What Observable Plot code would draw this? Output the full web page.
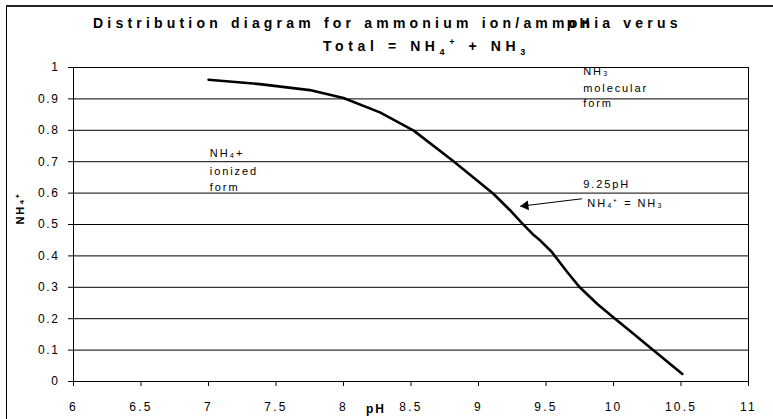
<!DOCTYPE html>
<html>
<head>
<meta charset="utf-8">
<script src="https://cdn.jsdelivr.net/npm/d3@7"></script>
<script src="https://cdn.jsdelivr.net/npm/@observablehq/plot@0.6"></script>
<style>
  body { margin: 0; background: #fff; }
  #wrap { position: relative; width: 773px; height: 419px; overflow: hidden; background: #fff; font-family: "Liberation Sans", Arial, sans-serif; }
  #border { position: absolute; left: 6px; top: 5px; width: 820px; height: 480px; border-left: 1px solid #000; border-top: 2px solid #222; pointer-events: none; }
  #title { position: relative; height: 58px; }
  .t { position: absolute; white-space: nowrap; font-weight: bold; font-size: 14px; letter-spacing: 4.2px; word-spacing: 1px; color: #000; }
  .t sub, .t sup { font-size: 9px; line-height: 0; }
  .chart text { letter-spacing: 1.6px; }
  .chart g[aria-label="x-axis tick label"] text { letter-spacing: 2.2px; }
  .chart g[aria-label="text"] text { letter-spacing: 1.9px; }
</style>
</head>
<body>
<div id="wrap">
  <div id="border"></div>
  <div id="title">
    <div class="t" style="left:93px; top:15px;">Distribution diagram for ammonium ion/amm<span style="position:relative">on<span style="position:absolute;left:-2px;top:0">pH</span></span>ia verus</div>
    <div class="t" style="left:323px; top:38px; letter-spacing:4.6px;">Total = NH<sub>4</sub><sup>+</sup> + NH<sub>3</sub></div>
  </div>
  <div id="chart"></div>
</div>
<script>
// Curve: fraction of NH4+ versus pH
const pH  = [7.0, 7.38, 7.75, 8.0, 8.27, 8.52, 8.81, 9.11, 9.23, 9.32, 9.40, 9.46, 9.54, 9.66, 9.75, 9.88, 10.0, 10.15, 10.30, 10.51];
const nh4 = [0.961, 0.947, 0.928, 0.903, 0.857, 0.799, 0.703, 0.598, 0.547, 0.505, 0.470, 0.448, 0.414, 0.347, 0.300, 0.247, 0.204, 0.151, 0.098, 0.024];

// Axis ticks
const xTicks = [6, 6.5, 7, 7.5, 8, 8.5, 9, 9.5, 10, 10.5, 11];
const yTicks = [0, 0.1, 0.2, 0.3, 0.4, 0.5, 0.6, 0.7, 0.8, 0.9, 1];

// Annotation texts (positions in data units)
const annText = ["NH₃", "molecular", "form", "NH₄+", "ionized", "form", "9.25pH", "NH₄⁺ = NH₃"];
const annX    = [9.776, 9.776, 9.776, 7.01, 7.01, 7.01, 9.776, 9.806];
const annY    = [0.987, 0.933, 0.885, 0.726, 0.669, 0.618, 0.627, 0.567];

// Arrow pointing to the curve at pKa
const arrowFrom = {x: 9.766, y: 0.582};
const arrowTo   = {x: 9.309, y: 0.558};

const xLabel = "pH";
const yLabel = "NH₄⁺";

const curve = pH.map((d, i) => ({pH: d, f: nh4[i]}));
const ann = annText.map((t, i) => ({t, x: annX[i], y: annY[i]}));

const chart = Plot.plot({
  width: 773,
  height: 361,
  marginLeft: 73,
  marginRight: 25,
  marginTop: 9,
  marginBottom: 38,
  className: "chart",
  style: {fontFamily: "'Liberation Sans', Arial, sans-serif", fontSize: "12px", color: "#000", background: "transparent", overflow: "visible"},
  x: {domain: [6, 11]},
  y: {domain: [0, 1]},
  marks: [
    Plot.ruleY(yTicks.filter(d => d > 0), {stroke: "#000", strokeWidth: 1}),
    Plot.frame({stroke: "#000", strokeWidth: 1}),
    Plot.axisY({ticks: yTicks, tickSize: 5, tickPadding: 9, tickFormat: d => String(d), label: null, fontSize: 12}),
    Plot.axisX({ticks: xTicks, tickSize: 5, tickPadding: 16, tickFormat: d => String(d), label: null, fontSize: 12}),
    Plot.line(curve, {x: "pH", y: "f", stroke: "#000", strokeWidth: 2.6}),
    Plot.text(ann, {x: "x", y: "y", text: "t", textAnchor: "start", lineAnchor: "middle", fontSize: 11, fill: "#000"}),
    Plot.link([{x1: arrowFrom.x, y1: arrowFrom.y, x2: arrowTo.x, y2: arrowTo.y}], {x1: "x1", y1: "y1", x2: "x2", y2: "y2", stroke: "#000", strokeWidth: 1}),
    Plot.dot([arrowTo], {x: "x", y: "y", symbol: "triangle", r: 3.6, rotate: -96.8, fill: "#000", stroke: "none", dx: 5.4, dy: -0.6}),
    Plot.text([{x: 8.24, y: 0, t: xLabel}], {x: "x", y: "y", text: "t", dy: 28, textAnchor: "middle", lineAnchor: "middle", fontWeight: "bold", fontSize: 12, fill: "#000"}),
    Plot.text([yLabel], {frameAnchor: "left", dx: -53, rotate: -90, text: d => d, fontWeight: "bold", fontSize: 11, fill: "#000"})
  ]
});
document.getElementById("chart").appendChild(chart);
</script>
</body>
</html>
